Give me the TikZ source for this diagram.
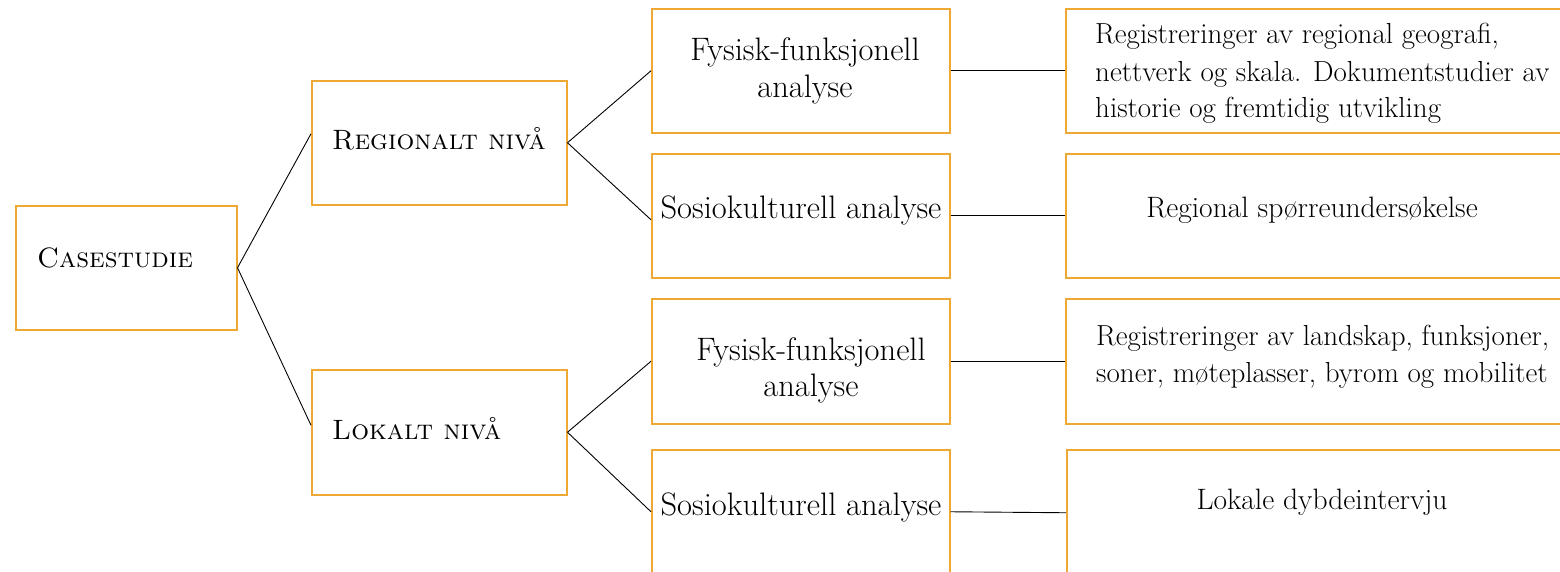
\documentclass[tikz,border=0pt]{standalone}
\usepackage{fontspec}
\definecolor{boxorange}{RGB}{238,168,52}
\begin{document}
\begin{tikzpicture}[x=1pt,y=1pt,
  box/.style={draw=boxorange, line width=1.5pt, anchor=north west, inner sep=0pt, minimum width=#1},
  box/.default=298pt,
  txt/.style={font=\fontsize{28}{37}\selectfont, inner sep=0pt},
  midtxt/.style={font=\fontsize{32.5}{37}\selectfont, inner sep=0pt},
  righttxt/.style={font=\fontsize{29.5}{37}\selectfont, inner sep=0pt},
  leftrighttxt/.style={font=\fontsize{29}{37}\selectfont, inner sep=0pt},
  link/.style={draw=black, line width=0.9pt}]
\useasboundingbox (0,0) rectangle (1560,-571);
\clip (0,0) rectangle (1560,-571);
% boxes
\node[box=221pt, minimum height=124pt] (cs) at (15,-205) {};
\node[box=255pt, minimum height=124pt] (reg) at (311,-80) {};
\node[box=255pt, minimum height=125pt] (lok) at (311,-369) {};
\node[box, minimum height=124pt] (ff1) at (651,-8) {};
\node[box, minimum height=124pt] (so1) at (651,-153) {};
\node[box, minimum height=125pt] (ff2) at (651,-298) {};
\node[box, minimum height=124pt] (so2) at (651,-449) {};
\node[box=520pt, minimum height=124pt] (r1) at (1065,-8) {};
\node[box=520pt, minimum height=124pt] (r2) at (1065,-153) {};
\node[box=520pt, minimum height=125pt] (r3) at (1065,-298) {};
\node[box=520pt, minimum height=126pt] (r4) at (1066,-449) {};
% texts
\node[txt, anchor=base west] (tcs) at (37,-267) {\textsc{Casestudie}};
\node[txt, anchor=base west] (treg) at (332,-149) {\textsc{Regionalt nivå}};
\node[txt, anchor=base west] (tlok) at (332,-439) {\textsc{Lokalt nivå}};
\node[midtxt, anchor=base] (tff1a) at (805,-60) {Fysisk-funksjonell};
\node[midtxt, anchor=base] (tff1b) at (805,-97) {analyse};
\node[midtxt, anchor=base] (tso1) at (801,-218) {Sosiokulturell analyse};
\node[midtxt, anchor=base] (tff2a) at (811,-360) {Fysisk-funksjonell};
\node[midtxt, anchor=base] (tff2b) at (811,-396) {analyse};
\node[midtxt, anchor=base] (tso2) at (801,-515) {Sosiokulturell analyse};
\node[leftrighttxt, anchor=base west] (tr1a) at (1095,-43) {Registreringer av regional geografi,};
\node[leftrighttxt, anchor=base west] (tr1b) at (1095,-81) {nettverk og skala. Dokumentstudier av};
\node[leftrighttxt, anchor=base west] (tr1c) at (1095,-117) {historie og fremtidig utvikling};
\node[righttxt, anchor=base] (tr2) at (1312,-217) {Regional spørreundersøkelse};
\node[leftrighttxt, anchor=base west] (tr3a) at (1096,-345) {Registreringer av landskap, funksjoner,};
\node[leftrighttxt, anchor=base west] (tr3b) at (1096,-382) {soner, møteplasser, byrom og mobilitet};
\node[righttxt, anchor=base] (tr4) at (1322,-509) {Lokale dybdeintervju};
% connectors
\draw[link] (cs.east) -- ([yshift=9pt]reg.west);
\draw[link] (cs.east) -- ([yshift=7pt]lok.west);
\draw[link] (reg.east) -- (ff1.west);
\draw[link] (reg.east) -- ([yshift=-4pt]so1.west);
\draw[link] (lok.east) -- (ff2.west);
\draw[link] (lok.east) -- (so2.west);
\draw[link] (ff1.east) -- (r1.west);
\draw[link] (so1.east) -- (r2.west);
\draw[link] (ff2.east) -- (r3.west);
\draw[link] (so2.east) -- (r4.west);
\end{tikzpicture}
\end{document}
